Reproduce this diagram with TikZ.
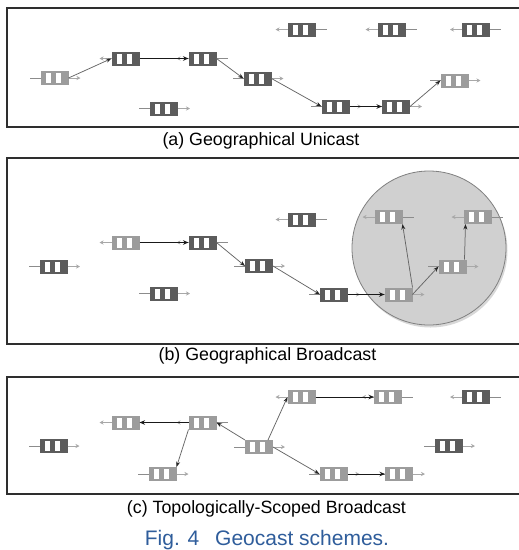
\documentclass[tikz,border=0pt]{standalone}
\usepackage{fontspec}
\setmainfont{Liberation Sans}
\usetikzlibrary{arrows.meta,calc,shadows}
\definecolor{vdark}{HTML}{5C5C5C}
\definecolor{vlight}{HTML}{9C9C9C}
\definecolor{stubc}{HTML}{8C8C8C}
\definecolor{stubarc}{HTML}{A8A8A8}
\definecolor{linkc}{HTML}{666666}
\definecolor{framec}{HTML}{2E2E2E}
\definecolor{zonec}{HTML}{D0D0D0}
\definecolor{zoneb}{HTML}{808080}
\definecolor{figblue}{HTML}{2F5D9B}
\tikzset{
 veh/.style={rectangle, minimum width=28pt, minimum height=14pt, inner sep=0pt, outer sep=0pt,
   path picture={\fill[white] ([shift={(5pt,2pt)}]path picture bounding box.south west) rectangle ++(5pt,10pt);
                 \fill[white] ([shift={(15pt,2pt)}]path picture bounding box.south west) rectangle ++(5pt,10pt);}},
 dk/.style={veh, fill=vdark},
 lt/.style={veh, fill=vlight},
 stub/.style={draw=stubc, line width=1pt},
 stubar/.style={draw=stubarc, line width=1pt, -{Stealth[length=4pt,width=4pt]}},
 link/.style={draw=linkc, line width=0.75pt, -{Stealth[length=5.5pt,width=4pt,color=black!85]}},
 blink/.style={draw=black!90, line width=0.9pt, -{Stealth[length=5.5pt,width=4.5pt]}},
 panelframe/.style={draw=framec, line width=1.4pt},
 captext/.style={font=\fontsize{17.8}{20}\selectfont, anchor=base, inner sep=0pt},
 zone/.style={circle, minimum size=154pt, inner sep=0pt, fill=zonec, draw=zoneb, line width=0.8pt,
   drop shadow={opacity=0.3, shadow xshift=1.5pt, shadow yshift=-2.5pt}},
}
\newcommand\vehR[1]{\draw[stub] (#1.west) -- ++(-11pt,0pt); \draw[stubar] (#1.east) -- ++(12pt,0pt);}
\newcommand\vehL[1]{\draw[stubar] (#1.west) -- ++(-12pt,0pt); \draw[stub] (#1.east) -- ++(11pt,0pt);}
\begin{document}
\begin{tikzpicture}[x=1pt,y=-1pt]
\path[use as bounding box] (0,0) rectangle (519,550);
\clip (0,0) rectangle (519,550);
\fill[white] (0,0) rectangle (519,550);
% frames
\draw[panelframe] (530,8) -- (7,8) -- (7,127) -- (530,127);
\draw[panelframe] (530,158) -- (7,158) -- (7,344) -- (530,344);
\draw[panelframe] (530,377) -- (7,377) -- (7,494) -- (530,494);
% zone (b)
\node[zone] (Z) at (429,248) {};
% ---- (a)
\node[lt] (A1) at (54.5,78) {};
\node[dk] (A2) at (125.5,58.5) {};
\node[dk] (A3) at (202.5,58.5) {};
\node[dk] (A4) at (257.5,78.5) {};
\node[dk] (A5) at (335.5,106.5) {};
\node[dk] (A6) at (396,106.5) {};
\node[lt] (A7) at (454.5,80.5) {};
\node[dk] (A8) at (164,108.5) {};
\node[dk] (T1) at (301.5,29.5) {};
\node[dk] (T2) at (391.5,29.5) {};
\node[dk] (T3) at (476,29.5) {};
\vehR{A1} \vehL{A2} \vehL{A3} \vehR{A4} \vehR{A5} \vehR{A6} \vehR{A7} \vehR{A8}
\vehL{T1} \vehL{T2} \vehL{T3}
\draw[link] (A1.east) -- (A2.west);
\draw[blink] (A2.east) -- (A3.west);
\draw[link] (A3.east) -- (A4.west);
\draw[link] (A4.east) -- (A5.west);
\draw[blink] (A5.east) -- (A6.west);
\draw[link] (A6.east) -- (A7.west);
% ---- (b)
\node[lt] (B1) at (125.5,242.5) {};
\node[dk] (B2) at (202.5,242.5) {};
\node[dk] (B3) at (259,266) {};
\node[dk] (B4) at (334,294.5) {};
\node[lt] (B5) at (398.5,294.5) {};
\node[lt] (B6) at (388.5,217) {};
\node[lt] (B7) at (452.5,266.5) {};
\node[lt] (B8) at (477.5,217) {};
\node[dk] (B9) at (301.5,219.5) {};
\node[dk] (B10) at (54,266.5) {};
\node[dk] (B11) at (164,293.5) {};
\vehL{B1} \vehL{B2} \vehR{B3} \vehR{B4} \vehR{B5} \vehL{B6} \vehR{B7} \vehL{B8}
\vehL{B9} \vehR{B10} \vehR{B11}
\draw[blink] (B1.east) -- (B2.west);
\draw[link] (B2.east) -- (B3.west);
\draw[link] (B3.east) -- (B4.west);
\draw[blink] (B4.east) -- (B5.west);
\draw[link] (B5.north east) -- (B6.south east);
\draw[link] (B5.east) -- (B7.west);
\draw[link] ($(B7.north east)+(-2pt,0pt)$) -- ($(B8.south west)+(2pt,0pt)$);
% ---- (c)
\node[lt] (C1) at (125.5,422.5) {};
\node[lt] (C2) at (202.5,422.5) {};
\node[lt] (C3) at (259,447) {};
\node[lt] (C4) at (162.5,474) {};
\node[dk] (C5) at (53.5,446) {};
\node[lt] (C6) at (301.5,397) {};
\node[lt] (C7) at (388,397) {};
\node[dk] (C8) at (476,397) {};
\node[dk] (C9) at (449,446) {};
\node[lt] (C10) at (333.5,474) {};
\node[lt] (C11) at (399,474) {};
\vehL{C1} \vehL{C2} \vehR{C3} \vehR{C4} \vehR{C5} \vehL{C6} \vehL{C7} \vehL{C8}
\vehR{C9} \vehR{C10} \vehR{C11}
\draw[blink] (C2.west) -- (C1.east);
\draw[link] (C3.north west) -- (C2.east);
\draw[link] (C2.south west) -- (C4.north east);
\draw[link] ($(C3.north east)+(-5pt,0pt)$) -- (C6.west);
\draw[blink] (C6.east) -- (C7.west);
\draw[link] (C3.east) -- (C10.west);
\draw[blink] (C10.east) -- (C11.west);
% captions
\node[captext] (capa) at (261,145) {(a) Geographical Unicast};
\node[captext] (capb) at (267.5,360) {(b) Geographical Broadcast};
\node[captext] (capc) at (266.5,513) {(c) Topologically-Scoped Broadcast};
\node[captext, font=\fontsize{21}{24}\selectfont, text=figblue] (fig) at (267,545) {Fig. 4\hspace{10pt} Geocast schemes.};
\end{tikzpicture}
\end{document}
